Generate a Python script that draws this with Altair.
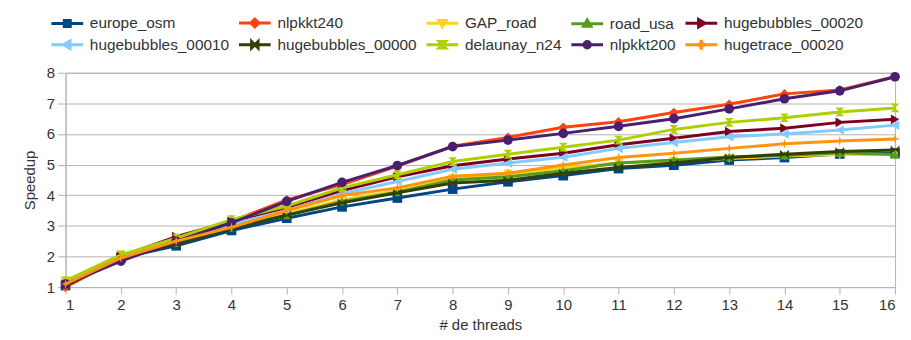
import altair as alt
import pandas as pd

threads = list(range(1, 17))

series_names = [
    "europe_osm", "nlpkkt240", "GAP_road", "road_usa", "hugebubbles_00020",
    "hugebubbles_00010", "hugebubbles_00000", "delaunay_n24", "nlpkkt200", "hugetrace_00020",
]
colors = ["#004586", "#ff420e", "#ffd320", "#579d1c", "#7e0021",
          "#83caff", "#314004", "#aecf00", "#4b1f6f", "#ff950e"]

europe_osm = [1.05, 1.95, 2.35, 2.85, 3.25, 3.62, 3.91, 4.20, 4.44, 4.64, 4.87, 4.98, 5.15, 5.23, 5.35, 5.38]
nlpkkt240 = [1.00, 1.95, 2.55, 3.15, 3.85, 4.35, 4.95, 5.60, 5.89, 6.22, 6.40, 6.70, 6.97, 7.31, 7.44, 7.87]
GAP_road = [1.20, 2.05, 2.45, 2.95, 3.40, 3.85, 4.15, 4.55, 4.70, 4.90, 5.05, 5.12, 5.20, 5.28, 5.33, 5.33]
road_usa = [1.15, 2.05, 2.45, 2.95, 3.35, 3.80, 4.10, 4.50, 4.60, 4.80, 5.05, 5.15, 5.25, 5.30, 5.39, 5.33]
hugebubbles_00020 = [1.10, 2.00, 2.65, 3.15, 3.60, 4.15, 4.60, 4.96, 5.18, 5.37, 5.65, 5.86, 6.08, 6.19, 6.38, 6.48]
hugebubbles_00010 = [1.10, 2.00, 2.55, 3.05, 3.50, 4.05, 4.45, 4.85, 5.05, 5.24, 5.53, 5.72, 5.91, 6.00, 6.13, 6.29]
hugebubbles_00000 = [1.05, 1.95, 2.40, 2.90, 3.35, 3.75, 4.08, 4.40, 4.49, 4.72, 4.91, 5.05, 5.23, 5.34, 5.43, 5.48]
delaunay_n24 = [1.20, 2.05, 2.60, 3.20, 3.65, 4.24, 4.67, 5.10, 5.34, 5.57, 5.80, 6.15, 6.38, 6.53, 6.72, 6.85]
nlpkkt200 = [1.10, 1.85, 2.50, 3.10, 3.80, 4.42, 4.97, 5.59, 5.80, 6.02, 6.25, 6.50, 6.82, 7.15, 7.41, 7.87]
hugetrace_00020 = [1.10, 1.95, 2.50, 2.95, 3.50, 3.99, 4.24, 4.62, 4.72, 4.99, 5.23, 5.37, 5.53, 5.68, 5.77, 5.84]

values = [europe_osm, nlpkkt240, GAP_road, road_usa, hugebubbles_00020,
          hugebubbles_00010, hugebubbles_00000, delaunay_n24, nlpkkt200, hugetrace_00020]

# plot marker shapes (unit square -1..1)
plot_shapes = [
    "square", "diamond", "triangle-down", "triangle-up", "triangle-right",
    "triangle-left",
    "M-0.9,-0.9L0.9,0.9L0.9,-0.9L-0.9,0.9Z",
    "M-0.9,-0.9L0.9,-0.9L-0.9,0.9L0.9,0.9Z",
    "circle",
    "M0,-1L0.22,-0.22L1,0L0.22,0.22L0,1L-0.22,0.22L-1,0L-0.22,-0.22Z",
]

# legend symbols: a line segment with the marker in the middle
LINE = "M-3.2,0L3.2,0 "
legend_markers = [
    "M-0.6,-0.6L0.6,-0.6L0.6,0.6L-0.6,0.6Z",
    "M0,-0.8L0.8,0L0,0.8L-0.8,0Z",
    "M-0.75,-0.55L0.75,-0.55L0,0.75Z",
    "M-0.75,0.55L0.75,0.55L0,-0.75Z",
    "M-0.55,-0.75L0.75,0L-0.55,0.75Z",
    "M0.55,-0.75L-0.75,0L0.55,0.75Z",
    "M-0.65,-0.65L0.65,0.65L0.65,-0.65L-0.65,0.65Z",
    "M-0.65,-0.65L0.65,-0.65L-0.65,0.65L0.65,0.65Z",
    "M-0.65,0A0.65,0.65 0 1,0 0.65,0A0.65,0.65 0 1,0 -0.65,0Z",
    "M0,-0.95L0.18,-0.18L0.95,0L0.18,0.18L0,0.95L-0.18,0.18L-0.95,0L-0.18,-0.18Z",
]
legend_shapes = [LINE + m for m in legend_markers]

rows = []
for name, vals in zip(series_names, values):
    for t, v in zip(threads, vals):
        rows.append({"series": name, "threads": t, "speedup": v})
df = pd.DataFrame(rows)

FONT = "Liberation Sans"
GRID = "#b3b3b3"
TXT = "#333333"

x_enc = alt.X("threads:Q",
              scale=alt.Scale(domain=[1, 16], nice=False, zero=False),
              axis=alt.Axis(values=threads, grid=False, title="# de threads",
                            tickSize=7, tickColor=GRID, domainColor=GRID,
                            labelFontSize=15, labelColor=TXT, labelFont=FONT,
                            labelPadding=4, titleFontSize=15, titleColor=TXT,
                            titleFont=FONT, titleFontWeight="normal", titlePadding=5))
y_enc = alt.Y("speedup:Q",
              scale=alt.Scale(domain=[1, 8], nice=False, zero=False),
              axis=alt.Axis(values=list(range(1, 9)), grid=True, gridColor=GRID,
                            title="Speedup", tickSize=8, tickColor=GRID,
                            domainColor=GRID, labelFontSize=15, labelColor=TXT,
                            labelFont=FONT, labelPadding=3, titleFontSize=15,
                            titleColor=TXT, titleFont=FONT,
                            titleFontWeight="normal", titlePadding=9))

layers = []
for i, name in enumerate(series_names):
    sub = df[df.series == name]
    base = alt.Chart(sub)
    line = base.mark_line(strokeWidth=3, color=colors[i]).encode(x=x_enc, y=y_enc)
    pts = base.mark_point(filled=True, opacity=1, size=95, color=colors[i],
                          shape=plot_shapes[i]).encode(x=x_enc, y=y_enc)
    layers += [line, pts]

legend_df = pd.DataFrame({"series": series_names, "threads": [1] * 10, "speedup": [1] * 10})
legend_layer = alt.Chart(legend_df).transform_filter("false").mark_point(filled=True).encode(
    x=x_enc, y=y_enc,
    fill=alt.Fill("series:N", scale=alt.Scale(domain=series_names, range=colors),
                  legend=alt.Legend(title=None)),
    stroke=alt.Stroke("series:N", scale=alt.Scale(domain=series_names, range=colors),
                      legend=alt.Legend(title=None)),
    shape=alt.Shape("series:N", scale=alt.Scale(domain=series_names, range=legend_shapes),
                    legend=alt.Legend(title=None)),
)

chart = alt.layer(*layers, legend_layer).properties(
    width=836, height=216,
    padding={"left": 58, "top": 64, "right": 8, "bottom": 44},
    autosize=alt.AutoSizeParams(type="none"),
).configure_view(stroke=GRID).configure_legend(
    orient="none", legendX=-6, legendY=-58, columns=5, direction="horizontal",
    symbolSize=100, symbolStrokeWidth=3, symbolOpacity=1,
    labelFontSize=15.5, labelFont=FONT, labelColor=TXT, labelOffset=15,
    columnPadding=3, rowPadding=1, padding=0,
)

chart.save("out.html", embed_options={"renderer": "svg", "actions": False})
